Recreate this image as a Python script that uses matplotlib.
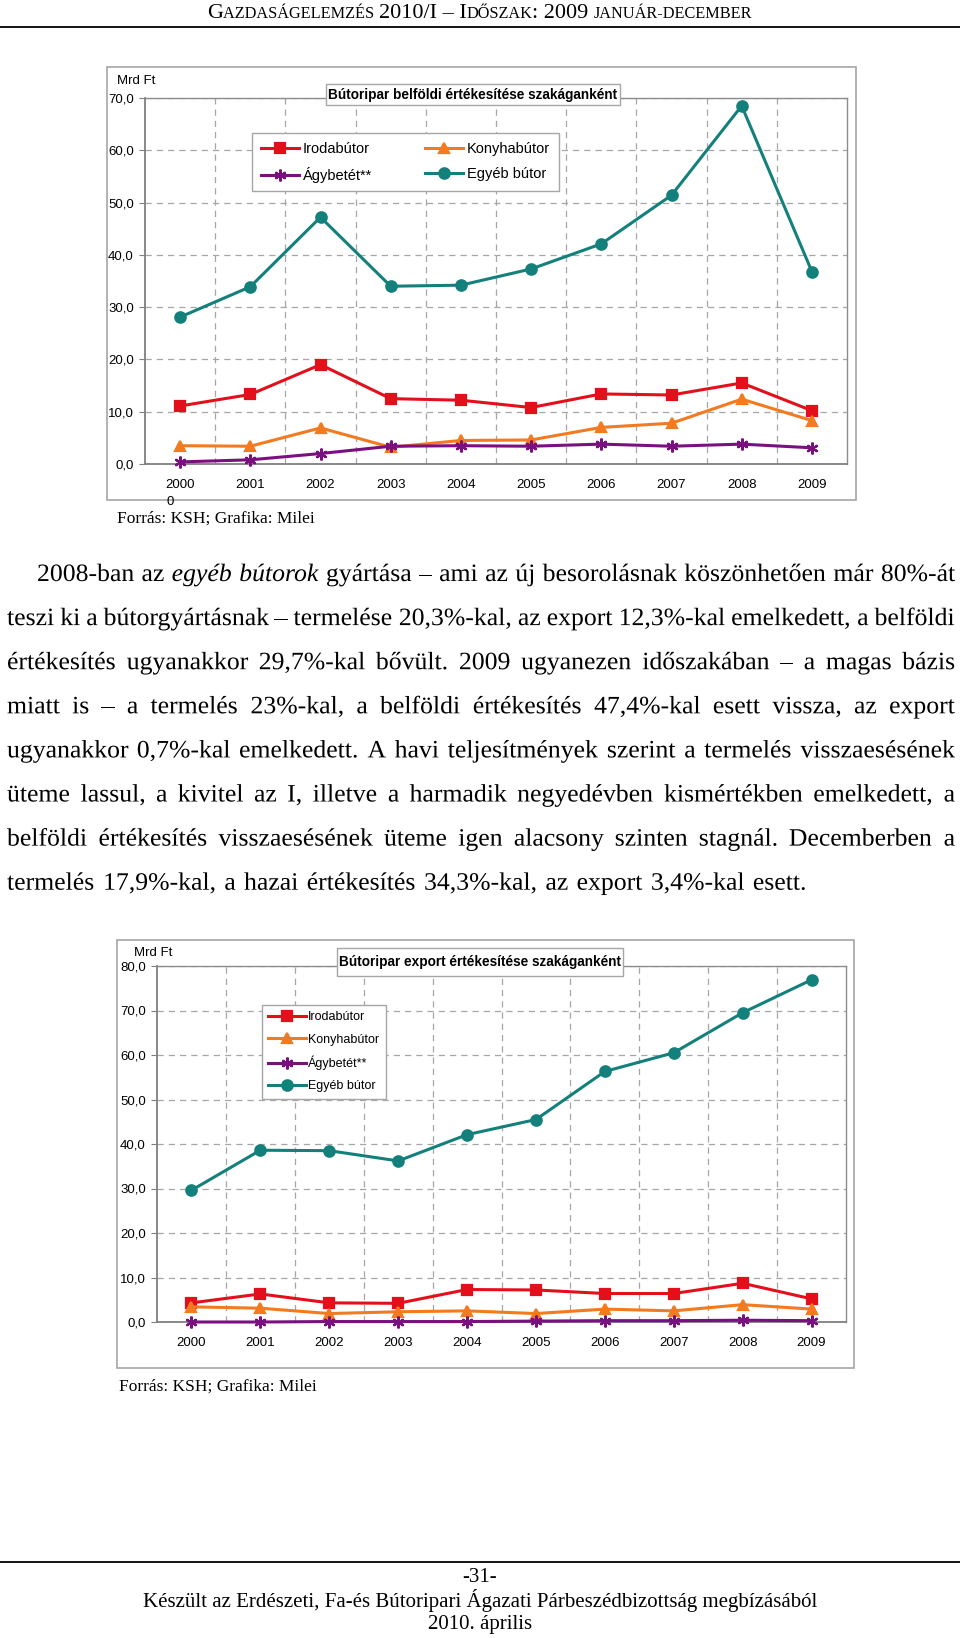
import matplotlib
matplotlib.use("Agg")
import matplotlib.pyplot as plt
from matplotlib import font_manager
from matplotlib.font_manager import FontProperties
from matplotlib.patches import Rectangle, PathPatch
from matplotlib.textpath import TextPath
from matplotlib.transforms import Affine2D
from matplotlib.ticker import FixedLocator

W, H = 960, 1638

years = [2000, 2001, 2002, 2003, 2004, 2005, 2006, 2007, 2008, 2009]
labels = ["Irodabútor", "Konyhabútor", "Ágybetét**", "Egyéb bútor"]

# belföldi értékesítés, Mrd Ft
belf_iroda = [11.1, 13.3, 19.0, 12.5, 12.2, 10.8, 13.4, 13.2, 15.5, 10.2]
belf_konyha = [3.5, 3.4, 6.9, 3.2, 4.5, 4.6, 7.0, 7.8, 12.4, 8.3]
belf_agy = [0.4, 0.8, 2.0, 3.4, 3.5, 3.4, 3.8, 3.4, 3.8, 3.1]
belf_egyeb = [28.1, 33.9, 47.2, 34.0, 34.2, 37.3, 42.1, 51.4, 68.5, 36.8]

# export értékesítés, Mrd Ft
exp_iroda = [4.3, 6.3, 4.3, 4.2, 7.3, 7.2, 6.4, 6.4, 8.7, 5.2]
exp_konyha = [3.4, 3.1, 1.9, 2.3, 2.5, 1.9, 2.9, 2.5, 3.9, 2.9]
exp_agy = [0.0, 0.0, 0.1, 0.1, 0.1, 0.2, 0.3, 0.3, 0.4, 0.3]
exp_egyeb = [29.6, 38.6, 38.5, 36.2, 42.1, 45.5, 56.3, 60.5, 69.5, 76.9]

header_runs = [("G", 16), ("AZDASÁGELEMZÉS ", 11.7), ("2010/I – I", 16), ("DŐSZAK", 11.7),
               (": 2009 ", 16), ("JANUÁR-DECEMBER", 11.7)]

para_lines = [
    "2008-ban az egyéb bútorok gyártása – ami az új besorolásnak köszönhetően már 80%-át",
    "teszi ki a bútorgyártásnak – termelése 20,3%-kal, az export 12,3%-kal emelkedett, a belföldi",
    "értékesítés ugyanakkor 29,7%-kal bővült. 2009 ugyanezen időszakában – a magas bázis",
    "miatt is – a termelés 23%-kal, a belföldi értékesítés 47,4%-kal esett vissza, az export",
    "ugyanakkor 0,7%-kal emelkedett. A havi teljesítmények szerint a termelés visszaesésének",
    "üteme lassul, a kivitel az I, illetve a harmadik negyedévben kismértékben emelkedett, a",
    "belföldi értékesítés visszaesésének üteme igen alacsony szinten stagnál. Decemberben a",
    "termelés 17,9%-kal, a hazai értékesítés 34,3%-kal, az export 3,4%-kal esett.",
]
italic_words = {(0, 2), (0, 3)}

footer_lines = ["-31-",
                "Készült az Erdészeti, Fa-és Bútoripari Ágazati Párbeszédbizottság megbízásából",
                "2010. április"]

colors = ["#E3101B", "#F47A1F", "#7A0F80", "#13807C"]
markers = ["s", "^", (6, 2, 0), "o"]

names = {f.name for f in font_manager.fontManager.ttflist}
SANS = "Liberation Sans Narrow" if "Liberation Sans Narrow" in names else "Liberation Sans"
SERIF = "Liberation Serif"
GREY = "#A6A6A6"

fig = plt.figure(figsize=(W / 100, H / 100), dpi=100)
renderer = fig.canvas.get_renderer()


def fx(x):
    return x / W


def fy(y):
    return 1 - y / H


def text_w(s, **kw):
    # width incl. leading/trailing spaces
    t1 = fig.text(0, 0, "|" + s + "|", **kw)
    t2 = fig.text(0, 0, "||", **kw)
    w = t1.get_window_extent(renderer).width - t2.get_window_extent(renderer).width
    t1.remove()
    t2.remove()
    return w


def frame(x0, y0, x1, y1):
    fig.add_artist(Rectangle((fx(x0), fy(y1)), fx(x1) - fx(x0), fy(y0) - fy(y1),
                             transform=fig.transFigure, fill=False, ec=GREY, lw=1.2))


def chart(plot_px, frame_px, ymax, series, title, title_px, mrd_xy, leg_kw, forras_xy, zero_xy=None):
    l, t, r, b = plot_px
    frame(*frame_px)
    ax = fig.add_axes([fx(l), fy(b), fx(r) - fx(l), fy(t) - fy(b)])
    x = list(range(len(years)))
    for vals, lab, c, m in zip(series, labels, colors, markers):
        ms = 8.5 if m == (6, 2, 0) else 7.5
        ax.plot(x, vals, color=c, lw=2.2, marker=m, ms=ms, mec=c, mfc=c, mew=1.6,
                label=lab, clip_on=False, zorder=3)
    ax.set_xlim(-0.5, len(years) - 0.5)
    ax.set_ylim(0, ymax)
    ax.set_yticks(range(0, ymax + 1, 10))
    ax.set_yticklabels([f"{v:.1f}".replace(".", ",") for v in range(0, ymax + 1, 10)])
    ax.set_xticks(x)
    ax.set_xticklabels([str(y) for y in years])
    ax.xaxis.set_minor_locator(FixedLocator([i + 0.5 for i in range(len(years) - 1)]))
    ax.tick_params(axis="x", which="both", length=0, pad=11)
    ax.tick_params(axis="y", length=4, color="#808080", pad=4)
    for lab in ax.get_xticklabels() + ax.get_yticklabels():
        lab.set_fontfamily(SANS)
        lab.set_fontsize(9.5)
    ax.grid(axis="y", which="major", color=GREY, ls=(0, (5, 4)), lw=0.9)
    ax.grid(axis="x", which="minor", color=GREY, ls=(0, (5, 4)), lw=0.9)
    ax.set_axisbelow(True)
    for s in ["left", "bottom"]:
        ax.spines[s].set_color("#7F7F7F")
        ax.spines[s].set_linewidth(1.3)
    for s in ["top", "right"]:
        ax.spines[s].set_color("#8C8C8C")
        ax.spines[s].set_linewidth(1.0)

    fig.text(fx(mrd_xy[0]), fy(mrd_xy[1]), "Mrd Ft", family=SANS, fontsize=9.5, va="center")
    tx0, ty0, tx1, ty1 = title_px
    fig.add_artist(Rectangle((fx(tx0), fy(ty1)), fx(tx1) - fx(tx0), fy(ty0) - fy(ty1),
                             transform=fig.transFigure, fc="white", ec=GREY, lw=1.0, zorder=5))
    fig.text(fx((tx0 + tx1) / 2), fy((ty0 + ty1) / 2), title, family=SANS, fontsize=9.8,
             weight="bold", ha="center", va="center", zorder=6)
    h, lb = ax.get_legend_handles_labels()
    if leg_kw.get("ncol", 1) == 2:
        order = [0, 2, 1, 3]
        h = [h[i] for i in order]
        lb = [lb[i] for i in order]
    leg = ax.legend(h, lb, loc="upper left", bbox_transform=fig.transFigure, borderaxespad=0,
                    fancybox=False, framealpha=1, edgecolor=GREY,
                    prop={"family": SANS, "size": leg_kw.pop("size")}, **leg_kw)
    leg.get_frame().set_linewidth(1.0)
    fig.text(fx(forras_xy[0]), fy(forras_xy[1]), "Forrás: KSH; Grafika: Milei",
             family=SERIF, fontsize=12.5, va="center")
    if zero_xy:
        fig.text(fx(zero_xy[0]), fy(zero_xy[1]), "0", family=SANS, fontsize=9.5,
                 ha="center", va="center")
    return ax


# header
fig.add_artist(plt.Line2D([0, 1], [fy(27), fy(27)], transform=fig.transFigure, color="black", lw=1.3))
widths = [text_w(s, family=SERIF, fontsize=sz) for s, sz in header_runs]
xpos = 480 - sum(widths) / 2
for (s, sz), w in zip(header_runs, widths):
    fig.text(fx(xpos), fy(18), s, family=SERIF, fontsize=sz, va="baseline")
    xpos += w

chart((145, 98, 847, 464), (107, 67, 856, 500), 70,
      [belf_iroda, belf_konyha, belf_agy, belf_egyeb],
      "Bútoripar belföldi értékesítése szakáganként", (326, 84, 620, 105), (117, 81),
      dict(ncol=2, size=10.5, bbox_to_anchor=(fx(252), fy(133)), handlelength=2.6,
           handletextpad=0.3, columnspacing=3.6, labelspacing=0.75, borderpad=0.6),
      (117, 519), zero_xy=(170, 502))

chart((157, 966, 846, 1322), (117, 940, 854, 1368), 80,
      [exp_iroda, exp_konyha, exp_agy, exp_egyeb],
      "Bútoripar export értékesítése szakáganként", (337, 948, 623, 976), (134, 953),
      dict(ncol=1, size=9, bbox_to_anchor=(fx(262), fy(1005)), handlelength=3.0,
           handletextpad=0.2, labelspacing=0.82, borderpad=0.5),
      (119, 1387))

# paragraph, justified; words drawn as paths so every word sits on the same baseline
PS = 18.0
SX = 1.03
PS_PX = PS * 100 / 72
to_fig = Affine2D().scale(1 / W, 1 / H) + fig.transFigure


def word(x, base, s, style):
    fp = FontProperties(family=SERIF, style=style)
    tp = TextPath((0, 0), s, size=PS_PX, prop=fp)
    tr = Affine2D().scale(SX, 1).translate(x, H - base) + to_fig
    fig.add_artist(PathPatch(tp, transform=tr, fc="black", ec="none", lw=0))


left, right, indent = 7, 955, 37
for i, line in enumerate(para_lines):
    base = 581 + 44.1 * i
    words = line.split(" ")
    styles = ["italic" if (i, j) in italic_words else "normal" for j in range(len(words))]
    ws = [SX * text_w(w, family=SERIF, fontsize=PS, style=st) for w, st in zip(words, styles)]
    x0 = indent if i == 0 else left
    if i == len(para_lines) - 1:
        gap = 1.3 * SX * text_w(" ", family=SERIF, fontsize=PS)
    else:
        gap = (right - x0 - sum(ws)) / (len(words) - 1)
    xpos = x0
    for w, st, wd in zip(words, styles, ws):
        word(xpos, base, w, st)
        xpos += wd + gap

# footer
fig.add_artist(plt.Line2D([0, 1], [fy(1562), fy(1562)], transform=fig.transFigure, color="black", lw=1.3))
for k, s in enumerate(footer_lines):
    fig.text(0.5, fy(1577 + 24 * k), s, family=SERIF, fontsize=15, ha="center", va="center")

fig.savefig("out.png", dpi=100, facecolor="white")
